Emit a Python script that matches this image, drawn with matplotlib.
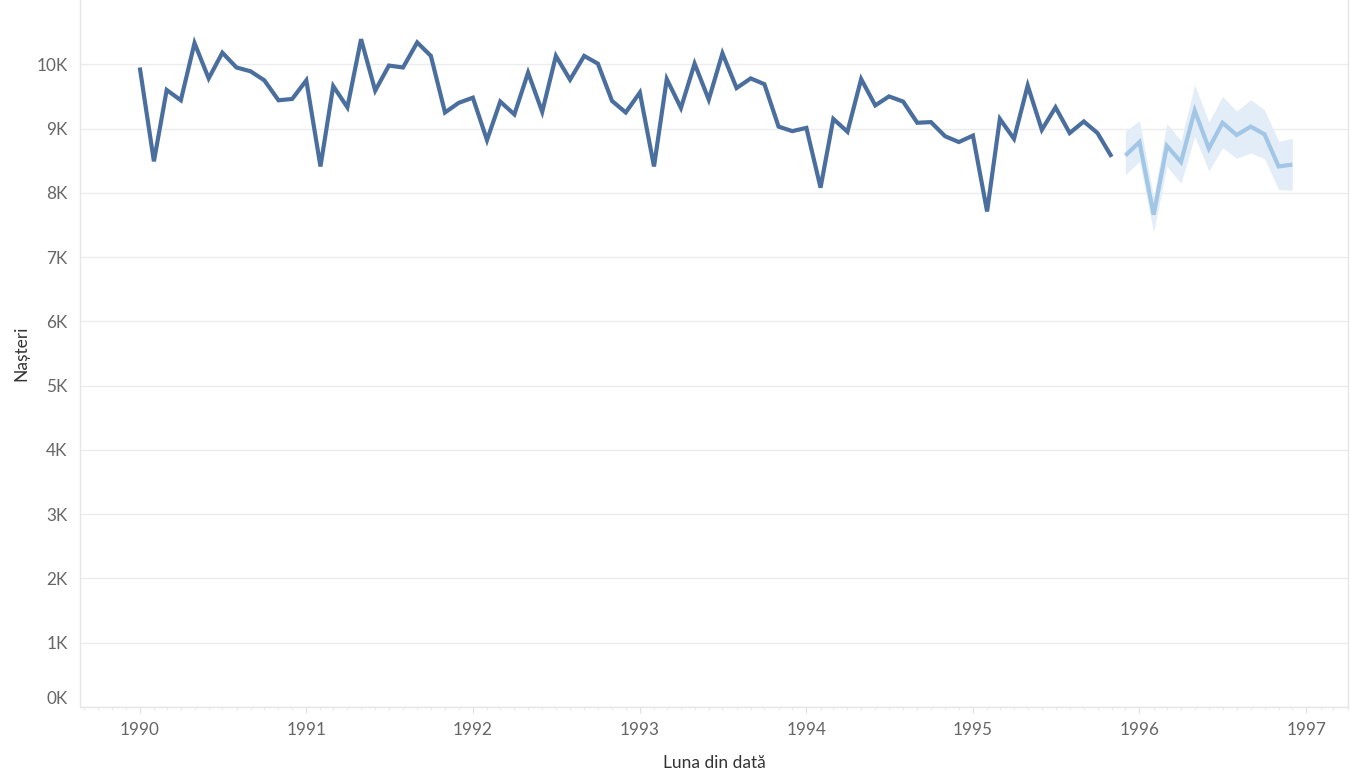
import matplotlib
matplotlib.use("Agg")
import matplotlib.pyplot as plt
import matplotlib.dates as mdates
from matplotlib.ticker import FuncFormatter, FixedLocator
import pandas as pd

plt.rcParams['font.family'] = ['Lato', 'DejaVu Sans']

# ---- data (thousands of births per month) ----
actual_start = "1990-01-01"
actual_values = [9.95, 8.49, 9.60, 9.44, 10.33, 9.78, 10.18, 9.95, 9.89, 9.75, 9.44, 9.46,
                 9.75, 8.41, 9.66, 9.33, 10.39, 9.59, 9.98, 9.95, 10.34, 10.13, 9.25, 9.40,
                 9.48, 8.82, 9.42, 9.22, 9.87, 9.26, 10.13, 9.76, 10.13, 10.01, 9.43, 9.25,
                 9.56, 8.41, 9.77, 9.32, 10.01, 9.45, 10.17, 9.63, 9.78, 9.69, 9.03, 8.96,
                 9.01, 8.08, 9.15, 8.95, 9.77, 9.36, 9.50, 9.42, 9.09, 9.10, 8.88, 8.79,
                 8.89, 7.71, 9.15, 8.84, 9.67, 8.98, 9.33, 8.93, 9.11, 8.93, 8.56]

forecast_start = "1995-12-01"
forecast_values = [8.58, 8.79, 7.66, 8.73, 8.48, 9.28, 8.69, 9.09, 8.90, 9.03, 8.91, 8.41, 8.44]
forecast_upper = [8.96, 9.12, 7.93, 9.08, 8.81, 9.68, 9.10, 9.50, 9.27, 9.45, 9.29, 8.80, 8.85]
forecast_lower = [8.28, 8.49, 7.39, 8.41, 8.15, 8.88, 8.34, 8.70, 8.54, 8.62, 8.53, 8.05, 8.04]

y_ticks = [0, 1000, 2000, 3000, 4000, 5000, 6000, 7000, 8000, 9000, 10000]
x_title = "Luna din dată"
y_title = "Nașteri"

actual_dates = pd.date_range(actual_start, periods=len(actual_values), freq="MS")
forecast_dates = pd.date_range(forecast_start, periods=len(forecast_values), freq="MS")
act = [v * 1000 for v in actual_values]
fc = [v * 1000 for v in forecast_values]
fu = [v * 1000 for v in forecast_upper]
fl = [v * 1000 for v in forecast_lower]

fig = plt.figure(figsize=(13.5, 7.84), dpi=100)
ax = fig.add_axes([80 / 1350, 77 / 784, 1268 / 1350, 707 / 784])

ax.fill_between(forecast_dates, fl, fu, color="#e3edf8", linewidth=0, zorder=1)
ax.plot(forecast_dates, fc, color="#a2c6e6", linewidth=3.0, solid_joinstyle="miter",
        solid_capstyle="butt", zorder=2)
ax.plot(actual_dates, act, color="#4a6e9d", linewidth=3.0, solid_joinstyle="miter",
        solid_capstyle="butt", zorder=3)

ax.set_ylim(0, 11000)
ax.set_xlim(pd.Timestamp("1989-08-23"), pd.Timestamp("1997-04-02"))

ax.yaxis.set_major_locator(FixedLocator(y_ticks))
ax.yaxis.set_major_formatter(FuncFormatter(lambda v, p: f"{v/1000:.0f}K"))
ax.grid(axis="y", color="#ececec", linewidth=1.0, zorder=0)
ax.set_axisbelow(True)

ax.xaxis.set_major_locator(mdates.YearLocator())
ax.xaxis.set_major_formatter(mdates.DateFormatter("%Y"))
ax.xaxis.set_minor_locator(mdates.MonthLocator())

ax.tick_params(axis="y", length=0, pad=9, labelsize=12.3, labelcolor="#666666")
ax.tick_params(axis="x", which="major", length=4, width=0.8, color="#e0e0e0", pad=7,
               labelsize=12.3, labelcolor="#666666")
ax.tick_params(axis="x", which="minor", length=2.5, width=0.8, color="#ebebeb")

labels = ax.get_yticklabels()
labels[0].set_va("bottom")

ax.spines["top"].set_visible(False)
for s in ["left", "bottom", "right"]:
    ax.spines[s].set_color("#e6e6e6")
    ax.spines[s].set_linewidth(1.0)

ax.set_xlabel(x_title, fontsize=12.5, color="#333333", labelpad=12)
ax.set_ylabel(y_title, fontsize=12.5, color="#333333")
ax.yaxis.set_label_coords(-0.0397, 0.5)

fig.savefig("out.png", dpi=100, facecolor="white")
